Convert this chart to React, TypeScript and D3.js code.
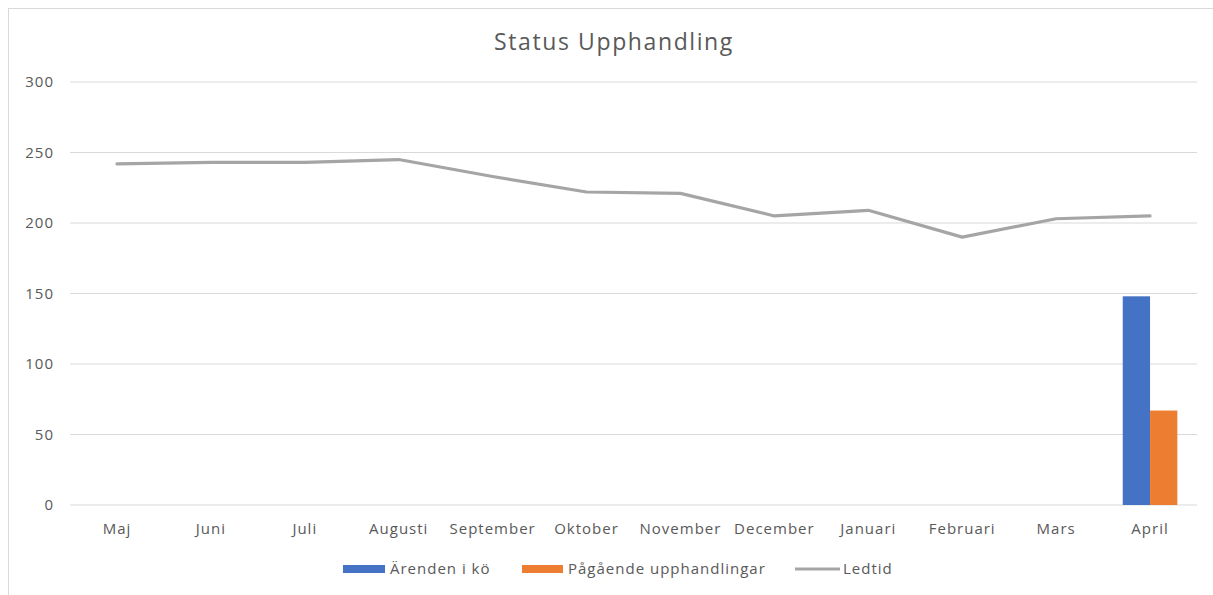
import * as d3 from 'd3';

// months on the category axis
const months = [
  'Maj', 'Juni', 'Juli', 'Augusti', 'September', 'Oktober',
  'November', 'December', 'Januari', 'Februari', 'Mars', 'April',
];

// bars only exist for the last month
const arendenIKo = [null, null, null, null, null, null, null, null, null, null, null, 148];
const pagaendeUpphandlingar = [null, null, null, null, null, null, null, null, null, null, null, 67];

// lead time line
const ledtid = [242, 243, 243, 245, 233, 222, 221, 205, 209, 190, 203, 205];

const yTicks = [0, 50, 100, 150, 200, 250, 300];

const barSeries = [
  { key: 'arenden', label: 'Ärenden i kö', values: arendenIKo, color: '#4472c4' },
  { key: 'pagaende', label: 'Pågående upphandlingar', values: pagaendeUpphandlingar, color: '#ed7d31' },
];
const lineColor = '#a5a5a5';
const textColor = '#595959';
const gridColor = '#d9d9d9';
const font = '"Open Sans", "Noto Sans", sans-serif';

export default function App() {
  const width = 1213;
  const height = 595;
  const plot = { left: 70, right: 1197, top: 82, bottom: 505 };

  const x = d3.scaleBand<string>().domain(months).range([plot.left, plot.right]).paddingInner(0).paddingOuter(0);
  const y = d3.scaleLinear().domain([0, 300]).range([plot.bottom, plot.top]);

  // the two bars share the middle of each band
  const xInner = d3
    .scaleBand<string>()
    .domain(barSeries.map((s) => s.key))
    .range([0, x.bandwidth()])
    .paddingInner(0)
    .paddingOuter(0.72);

  const line = d3
    .line<number>()
    .x((_, i) => (x(months[i]) as number) + x.bandwidth() / 2)
    .y((d) => y(d));

  return (
    <svg
      width={width}
      height={height}
      style={{ position: 'absolute', left: 0, top: 0, background: '#fff' }}
    >
      {/* outer chart frame */}
      <rect x={8.5} y={8.5} width={1220} height={620} fill="#fff" stroke="#d9d9d9" strokeWidth={1} />

      <text
        x={614}
        y={50}
        textAnchor="middle"
        fontFamily={font}
        fontSize={23}
        letterSpacing={1.6}
        fill={textColor}
      >
        Status Upphandling
      </text>

      {/* gridlines and y labels */}
      {yTicks.map((t) => (
        <g key={t}>
          <line x1={plot.left} x2={plot.right} y1={y(t)} y2={y(t)} stroke={gridColor} strokeWidth={1.2} />
          <text
            x={54}
            y={y(t)}
            dy="0.35em"
            textAnchor="end"
            fontFamily={font}
            fontSize={15}
            letterSpacing={1}
            fill={textColor}
          >
            {t}
          </text>
        </g>
      ))}

      {/* x labels */}
      {months.map((m) => (
        <text
          key={m}
          x={(x(m) as number) + x.bandwidth() / 2}
          y={534}
          textAnchor="middle"
          fontFamily={font}
          fontSize={15}
          letterSpacing={1}
          fill={textColor}
        >
          {m}
        </text>
      ))}

      {/* bars */}
      {barSeries.map((s) =>
        s.values.map((v, i) =>
          v == null ? null : (
            <rect
              key={`${s.key}-${i}`}
              x={(x(months[i]) as number) + (xInner(s.key) as number)}
              y={y(v)}
              width={xInner.bandwidth()}
              height={y(0) - y(v)}
              fill={s.color}
            />
          )
        )
      )}

      {/* lead time line */}
      <path d={line(ledtid) ?? ''} fill="none" stroke={lineColor} strokeWidth={3.2} strokeLinejoin="round" strokeLinecap="round" />

      {/* legend */}
      <g fontFamily={font} fontSize={15} letterSpacing={1} fill={textColor}>
        <rect x={343} y={565} width={42} height={8} fill={barSeries[0].color} />
        <text x={390} y={569} dy="0.35em">{barSeries[0].label}</text>
        <rect x={522} y={565} width={41} height={8} fill={barSeries[1].color} />
        <text x={568} y={569} dy="0.35em">{barSeries[1].label}</text>
        <line x1={795} x2={840} y1={569} y2={569} stroke={lineColor} strokeWidth={3.2} />
        <text x={843} y={569} dy="0.35em">Ledtid</text>
      </g>
    </svg>
  );
}
